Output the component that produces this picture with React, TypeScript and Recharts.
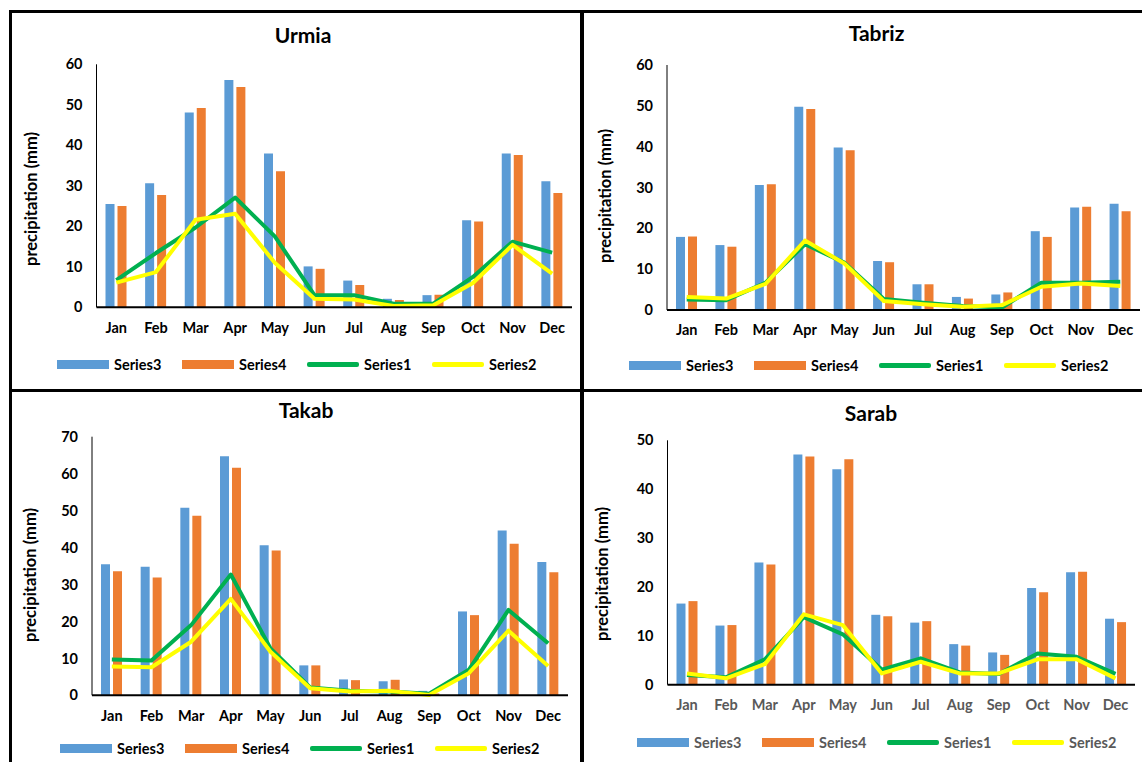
import React from 'react';
import { ComposedChart, Bar, Line, XAxis, YAxis } from 'recharts';

const months = ['Jan', 'Feb', 'Mar', 'Apr', 'May', 'Jun', 'Jul', 'Aug', 'Sep', 'Oct', 'Nov', 'Dec'];
const seriesNames = ['Series3', 'Series4', 'Series1', 'Series2'];

const urmiaS3 = [25.5, 30.6, 48.1, 56.1, 38.0, 10.1, 6.6, 2.1, 3.0, 21.5, 38.0, 31.1];
const urmiaS4 = [25.0, 27.7, 49.2, 54.4, 33.6, 9.5, 5.5, 1.8, 3.1, 21.2, 37.6, 28.2];
const urmiaS1 = [6.7, 13.4, 19.7, 27.1, 17.5, 3.0, 3.0, 0.9, 0.9, 7.5, 16.2, 13.5];
const urmiaS2 = [6.1, 8.7, 21.6, 23.1, 11.0, 2.1, 1.9, 0.3, 0.5, 6.0, 15.4, 8.3];
const urmiaTicks = [0, 10, 20, 30, 40, 50, 60];

const tabrizS3 = [17.9, 15.9, 30.6, 49.8, 39.8, 12.0, 6.3, 3.2, 3.8, 19.3, 25.1, 26.0];
const tabrizS4 = [18.0, 15.5, 30.8, 49.2, 39.1, 11.7, 6.3, 2.8, 4.3, 17.9, 25.3, 24.2];
const tabrizS1 = [2.6, 2.4, 6.7, 16.1, 11.6, 2.7, 1.8, 1.0, 0.6, 6.7, 6.7, 6.9];
const tabrizS2 = [3.2, 2.8, 6.4, 17.0, 11.4, 2.2, 1.4, 0.8, 1.2, 5.7, 6.5, 5.9];
const tabrizTicks = [0, 10, 20, 30, 40, 50, 60];

const takabS3 = [35.5, 34.8, 50.8, 64.7, 40.6, 8.1, 4.3, 3.8, 1.2, 22.7, 44.6, 36.1];
const takabS4 = [33.6, 31.9, 48.6, 61.6, 39.2, 8.1, 4.1, 4.2, 0.5, 21.7, 41.0, 33.3];
const takabS1 = [9.7, 9.4, 19.0, 32.7, 12.7, 2.1, 1.2, 1.0, 0.4, 6.9, 23.1, 14.1];
const takabS2 = [7.8, 7.6, 14.5, 26.1, 11.8, 1.9, 1.0, 1.2, 0.1, 6.0, 17.5, 7.9];
const takabTicks = [0, 10, 20, 30, 40, 50, 60, 70];

const sarabS3 = [16.6, 12.1, 25.0, 47.1, 44.1, 14.3, 12.7, 8.3, 6.6, 19.8, 23.0, 13.5];
const sarabS4 = [17.1, 12.2, 24.6, 46.7, 46.1, 14.0, 13.0, 8.0, 6.1, 18.9, 23.1, 12.8];
const sarabS1 = [2.0, 1.5, 5.2, 13.8, 10.3, 3.1, 5.4, 2.5, 2.2, 6.4, 5.7, 2.2];
const sarabS2 = [2.3, 1.3, 4.2, 14.4, 12.2, 2.3, 4.7, 2.3, 2.3, 5.2, 5.2, 1.3];
const sarabTicks = [0, 10, 20, 30, 40, 50];

const FONT = 'Lato, "Open Sans", sans-serif';
const BLUE = '#5B9BD5';
const ORANGE = '#ED7D31';
const GREEN = '#00B050';
const YELLOW = '#FFFF00';

function rows(s1: number[], s2: number[], s3: number[], s4: number[]) {
  return months.map((m, i) => ({ month: m, s1: s1[i], s2: s2[i], s3: s3[i], s4: s4[i] }));
}

type PanelCfg = {
  title: string;
  data: any[];
  ticks: number[];
  box: { x: number; y: number; w: number; h: number };
  plot: { l: number; t: number; r: number; b: number };
  titleC: [number, number];
  ylabC: [number, number];
  legend: [number, number];
  xTickColor: string;
  legendColor: string;
};

const panels: PanelCfg[] = [
  {
    title: 'Urmia',
    data: rows(urmiaS1, urmiaS2, urmiaS3, urmiaS4),
    ticks: urmiaTicks,
    box: { x: 12, y: 12, w: 568, h: 377 },
    plot: { l: 96.5, t: 64.3, r: 572, b: 307.3 },
    titleC: [303, 34.5],
    ylabC: [31, 199],
    legend: [57, 364.5],
    xTickColor: '#000',
    legendColor: '#000',
  },
  {
    title: 'Tabriz',
    data: rows(tabrizS1, tabrizS2, tabrizS3, tabrizS4),
    ticks: tabrizTicks,
    box: { x: 584, y: 12, w: 558, h: 377 },
    plot: { l: 667, t: 65, r: 1140, b: 310 },
    titleC: [876.5, 33],
    ylabC: [605, 196],
    legend: [629, 365],
    xTickColor: '#000',
    legendColor: '#000',
  },
  {
    title: 'Takab',
    data: rows(takabS1, takabS2, takabS3, takabS4),
    ticks: takabTicks,
    box: { x: 12, y: 392, w: 568, h: 370 },
    plot: { l: 92, t: 436.7, r: 568, b: 695.3 },
    titleC: [306, 410],
    ylabC: [30, 575],
    legend: [60, 748],
    xTickColor: '#000',
    legendColor: '#000',
  },
  {
    title: 'Sarab',
    data: rows(sarabS1, sarabS2, sarabS3, sarabS4),
    ticks: sarabTicks,
    box: { x: 584, y: 392, w: 558, h: 370 },
    plot: { l: 667.5, t: 440.3, r: 1135, b: 684.7 },
    titleC: [871, 413],
    ylabC: [602, 574],
    legend: [637, 742],
    xTickColor: '#595959',
    legendColor: '#595959',
  },
];

const Y_W = 40;
const X_H = 30;

function Panel({ p }: { p: PanelCfg }) {
  const { box, plot } = p;
  const margin = {
    top: plot.t - box.y,
    right: box.x + box.w - plot.r,
    left: plot.l - box.x - Y_W,
    bottom: box.y + box.h - plot.b - X_H,
  };
  const max = p.ticks[p.ticks.length - 1];
  const tickFont = { fontSize: 14.5, fontWeight: 700, fontFamily: FONT };
  const legendColors = [BLUE, ORANGE, GREEN, YELLOW];
  return (
    <>
      <div style={{ position: 'absolute', left: box.x, top: box.y, width: box.w, height: box.h }}>
        <ComposedChart width={box.w} height={box.h} data={p.data} margin={margin} barSize={9} barGap={3}>
          <XAxis
            dataKey="month"
            height={X_H}
            interval={0}
            axisLine={{ stroke: '#000', strokeWidth: 2 }}
            tickLine={false}
            tickSize={0}
            tickMargin={15}
            tick={{ ...tickFont, fill: p.xTickColor }}
          />
          <YAxis
            width={Y_W}
            domain={[0, max]}
            ticks={p.ticks}
            interval={0}
            axisLine={{ stroke: '#000', strokeWidth: 1 }}
            tickLine={false}
            tickSize={0}
            tickMargin={14}
            tick={{ ...tickFont, fill: '#000' }}
          />
          <Bar dataKey="s3" name="Series3" fill={BLUE} isAnimationActive={false} />
          <Bar dataKey="s4" name="Series4" fill={ORANGE} isAnimationActive={false} />
          <Line
            dataKey="s1"
            name="Series1"
            type="linear"
            stroke={GREEN}
            strokeWidth={4}
            strokeLinejoin="round"
            dot={false}
            activeDot={false}
            isAnimationActive={false}
          />
          <Line
            dataKey="s2"
            name="Series2"
            type="linear"
            stroke={YELLOW}
            strokeWidth={4}
            strokeLinejoin="round"
            dot={false}
            activeDot={false}
            isAnimationActive={false}
          />
        </ComposedChart>
      </div>
      <div
        style={{
          position: 'absolute',
          left: p.titleC[0],
          top: p.titleC[1] - 11,
          transform: 'translateX(-50%)',
          fontFamily: FONT,
          fontWeight: 700,
          fontSize: 21,
          lineHeight: '21px',
          color: '#000',
          whiteSpace: 'nowrap',
        }}
      >
        {p.title}
      </div>
      <div
        style={{
          position: 'absolute',
          left: p.ylabC[0],
          top: p.ylabC[1],
          transform: 'translate(-50%, -50%) rotate(-90deg)',
          fontFamily: FONT,
          fontWeight: 700,
          fontSize: 16.5,
          lineHeight: '17px',
          color: '#000',
          whiteSpace: 'nowrap',
        }}
      >
        precipitation (mm)
      </div>
      <div
        style={{
          position: 'absolute',
          left: p.legend[0],
          top: p.legend[1] - 10,
          height: 20,
          display: 'flex',
          alignItems: 'center',
        }}
      >
        {seriesNames.map((n, i) => (
          <div key={n} style={{ width: 125, display: 'flex', alignItems: 'center', height: 20 }}>
            <div
              style={{
                width: 52,
                height: i < 2 ? 9 : 5,
                background: legendColors[i],
                borderRadius: i < 2 ? 0 : 2,
              }}
            />
            <span
              style={{
                marginLeft: 5,
                fontFamily: FONT,
                fontWeight: 700,
                fontSize: 14.5,
                color: p.legendColor,
                whiteSpace: 'nowrap',
              }}
            >
              {n}
            </span>
          </div>
        ))}
      </div>
    </>
  );
}

function Rule({ l, t, w, h }: { l: number; t: number; w: number; h: number }) {
  return <div style={{ position: 'absolute', left: l, top: t, width: w, height: h, background: '#000' }} />;
}

export default function App() {
  return (
    <div style={{ position: 'absolute', left: 0, top: 0, width: 1142, height: 762, background: '#fff', overflow: 'hidden' }}>
      {panels.map((p) => (
        <Panel key={p.title} p={p} />
      ))}
      <Rule l={9} t={10} w={1133} h={3} />
      <Rule l={9} t={10} w={3} h={752} />
      <Rule l={580} t={10} w={4} h={752} />
      <Rule l={9} t={389} w={1133} h={3} />
    </div>
  );
}
